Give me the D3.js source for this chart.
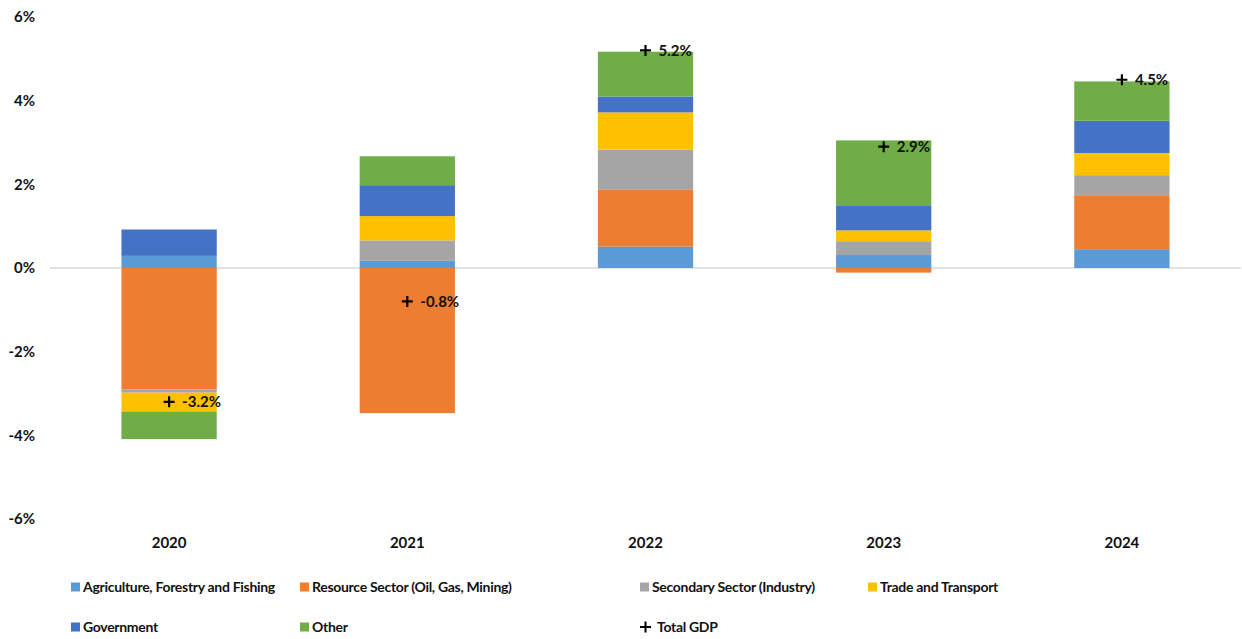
<!DOCTYPE html>
<html>
<head>
<meta charset="utf-8">
<script src="https://cdn.jsdelivr.net/npm/d3@7"></script>
<style>
  body { margin: 0; background: #fff; }
  svg text { font-family: Lato, "Noto Sans", sans-serif; fill: #111; }
</style>
</head>
<body>
<div id="chart"></div>
<script>
(function() {
  'use strict';
  var years = ['2020', '2021', '2022', '2023', '2024'],
      sectors = ['Agriculture, Forestry and Fishing', 'Resource Sector (Oil, Gas, Mining)',
                 'Secondary Sector (Industry)', 'Trade and Transport', 'Government', 'Other'],
      agriculture = [0.29, 0.17, 0.51, 0.31, 0.45],
      resource = [-2.90, -3.47, 1.37, -0.11, 1.29],
      secondary = [-0.08, 0.49, 0.95, 0.33, 0.48],
      trade = [-0.45, 0.58, 0.89, 0.26, 0.53],
      government = [0.63, 0.74, 0.38, 0.60, 0.77],
      other = [-0.66, 0.69, 1.07, 1.55, 0.94],
      totalGdp = [-3.2, -0.8, 5.2, 2.9, 4.5],
      yTicks = [-6, -4, -2, 0, 2, 4, 6];

  var colors = ['#5B9BD5', '#ED7D31', '#A5A5A5', '#FFC000', '#4472C4', '#70AD47'],
      seriesValues = [agriculture, resource, secondary, trade, government, other];

  var width = 1242, height = 639,
      margin = {top: 16, right: 1, bottom: 119, left: 50};

  var rows = years.map(function(y, i) {
    var r = {year: y};
    sectors.forEach(function(s, j) { r[s] = seriesValues[j][i]; });
    return r;
  });

  var stacked = d3.stack()
    .keys(sectors)
    .offset(d3.stackOffsetDiverging)(rows);

  var x = d3.scaleBand()
    .domain(years)
    .range([margin.left, width - margin.right])
    .paddingInner(0.6)
    .paddingOuter(0.3);

  var y = d3.scaleLinear()
    .domain([-6, 6])
    .range([height - margin.bottom - 1, margin.top + 1]);

  var svg = d3.select('#chart').append('svg')
    .attr('width', width)
    .attr('height', height);

  // y tick labels
  svg.append('g')
    .selectAll('text')
    .data(yTicks)
    .enter().append('text')
    .attr('x', 35)
    .attr('y', function(d) { return y(d); })
    .attr('dy', '0.35em')
    .attr('text-anchor', 'end')
    .style('font-size', '15px')
    .style('font-weight', 'bold')
    .text(function(d) { return d + '%'; });

  // zero line
  svg.append('line')
    .attr('x1', margin.left)
    .attr('x2', width - margin.right)
    .attr('y1', y(0))
    .attr('y2', y(0))
    .attr('stroke', '#D9D9D9')
    .attr('stroke-width', 1.5);

  // bars
  svg.append('g')
    .selectAll('g')
    .data(stacked)
    .enter().append('g')
    .attr('fill', function(d, i) { return colors[i]; })
    .selectAll('rect')
    .data(function(d) { return d; })
    .enter().append('rect')
    .attr('x', function(d) { return x(d.data.year); })
    .attr('width', x.bandwidth())
    .attr('y', function(d) { return y(Math.max(d[0], d[1])); })
    .attr('height', function(d) { return Math.abs(y(d[0]) - y(d[1])); });

  // category labels
  svg.append('g')
    .selectAll('text')
    .data(years)
    .enter().append('text')
    .attr('x', function(d) { return x(d) + x.bandwidth() / 2; })
    .attr('y', 543)
    .attr('dy', '0.35em')
    .attr('text-anchor', 'middle')
    .style('font-size', '15px')
    .style('font-weight', 'bold')
    .text(function(d) { return d; });

  // total GDP markers + labels
  var totals = svg.append('g')
    .selectAll('g')
    .data(years.map(function(yr, i) { return [yr, totalGdp[i]]; }))
    .enter().append('g')
    .attr('transform', function(d) {
      return 'translate(' + (x(d[0]) + x.bandwidth() / 2) + ',' + y(d[1]) + ')';
    });
  totals.append('path')
    .attr('d', 'M-5.5,0H5.5M0,-5.5V5.5')
    .attr('stroke', '#000')
    .attr('stroke-width', 2.2);
  totals.append('text')
    .attr('x', 13)
    .attr('dy', '0.35em')
    .style('font-size', '15px')
    .style('font-weight', 'bold')
    .text(function(d) { return d[1].toFixed(1) + '%'; });

  // legend
  var legendItems = sectors.map(function(s, i) { return {name: s, color: colors[i]}; })
    .concat([{name: 'Total GDP', marker: true}]);
  var legendPos = [[71, 587], [300, 587], [640, 587], [868, 587], [71, 627], [300, 627], [640, 627]];

  var legend = svg.append('g')
    .selectAll('g')
    .data(legendItems)
    .enter().append('g')
    .attr('transform', function(d, i) { return 'translate(' + legendPos[i][0] + ',' + legendPos[i][1] + ')'; });

  legend.filter(function(d) { return !d.marker; })
    .append('rect')
    .attr('x', 0)
    .attr('y', -4.5)
    .attr('width', 9)
    .attr('height', 9)
    .attr('fill', function(d) { return d.color; });
  legend.filter(function(d) { return d.marker; })
    .append('path')
    .attr('d', 'M0,0H11M5.5,-5.5V5.5')
    .attr('stroke', '#000')
    .attr('stroke-width', 2);

  legend.append('text')
    .attr('x', function(d) { return d.marker ? 17 : 12; })
    .attr('dy', '0.35em')
    .style('font-size', '14px')
    .style('font-weight', 'bold')
    .style('letter-spacing', '-0.3px')
    .text(function(d) { return d.name; });
})();
</script>
</body>
</html>
